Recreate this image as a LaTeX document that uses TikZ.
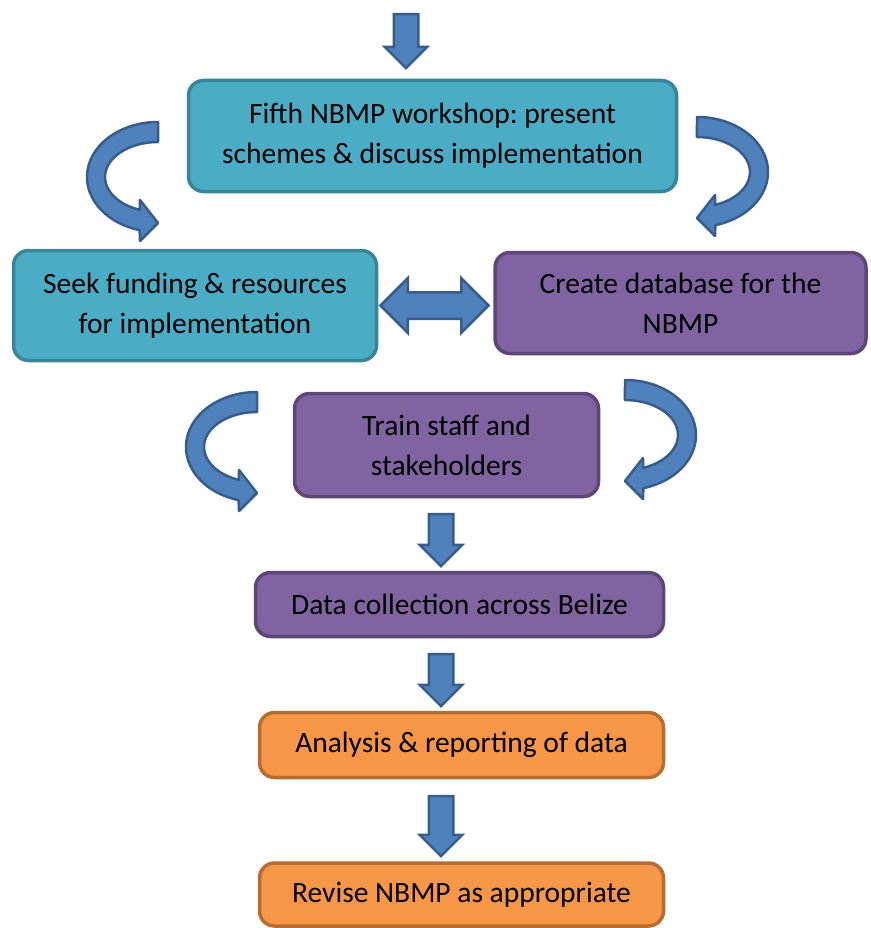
\documentclass[tikz,border=0pt]{standalone}
\usepackage{fontspec}
\setmainfont{Carlito}
\usetikzlibrary{shapes,arrows,positioning,calc}

\definecolor{tealfill}{HTML}{4BACC6}
\definecolor{tealline}{HTML}{3A8498}
\definecolor{purplefill}{HTML}{8064A2}
\definecolor{purpleline}{HTML}{5C4776}
\definecolor{orangefill}{HTML}{F79646}
\definecolor{orangeline}{HTML}{B66D31}
\definecolor{arrowfill}{HTML}{4F81BD}
\definecolor{arrowline}{HTML}{385D8A}

\tikzset{
  stage/.style={draw, rounded corners=15pt, line width=3.5pt, align=center,
    font=\fontsize{29.5}{40}\selectfont, inner sep=0pt},
  tealbox/.style={stage, fill=tealfill, draw=tealline},
  purplebox/.style={stage, fill=purplefill, draw=purpleline},
  orangebox/.style={stage, fill=orangefill, draw=orangeline},
  downarrow/.style={single arrow, draw=arrowline, fill=arrowfill, line width=2.5pt,
    shape border rotate=270, inner ysep=0pt, inner xsep=11pt,
    single arrow head extend=9pt},
  bothways/.style={double arrow, draw=arrowline, fill=arrowfill, line width=2.5pt,
    inner xsep=0pt, inner ysep=12pt, double arrow head extend=14pt},
  curl/.pic={
    \filldraw[fill=arrowfill, draw=arrowline, line width=2.5pt, line join=round]
      (0,55) arc[start angle=90, end angle=255, x radius=71, y radius=55]
      -- (-18,-64) -- (0,-46) -- (-18,-23)
      -- (-18.1,-32.9) arc[start angle=250, end angle=90, x radius=53, y radius=35]
      -- cycle;
  }
}

\begin{document}
\frenchspacing
\begin{tikzpicture}[x=1pt, y=1pt]
  \useasboundingbox (0,0) rectangle (870,-928);

  % boxes
  \node[tealbox, minimum width=488pt, minimum height=111pt] (fifth) at (432.5,-136)
    {Fifth NBMP workshop: present\\schemes \& discuss implementation};
  \node[tealbox, minimum width=363pt, minimum height=110pt] (seek) at (195,-305.5)
    {Seek funding \& resources\\for implementation};
  \node[purplebox, minimum width=371pt, minimum height=101pt] (database) at (680.5,-303)
    {Create database for the\\NBMP};
  \node[purplebox, minimum width=304pt, minimum height=103pt] (train) at (446.5,-445)
    {Train staff and\\stakeholders};
  \node[purplebox, minimum width=408pt, minimum height=64pt] (collect) at (459.5,-604.5)
    {Data collection across Belize};
  \node[orangebox, minimum width=404pt, minimum height=65pt] (analysis) at (461.5,-745)
    {Analysis \& reporting of data};
  \node[orangebox, minimum width=404pt, minimum height=63pt] (revise) at (461.5,-894.5)
    {Revise NBMP as appropriate};

  % block arrows
  \node[downarrow, minimum height=54pt] (intop) at (406,-35) {};
  \node[downarrow, minimum height=52pt] (totrain) at (441,-534) {};
  \node[downarrow, minimum height=52pt] (toanalysis) at (441,-674) {};
  \node[downarrow, minimum height=60pt] (torevise) at (441,-820) {};
  \node[bothways, minimum height=108pt] (link) at (434.5,-305.5) {};

  % curled arrows
  \pic at (158,-177) {curl};
  \pic[xscale=-1] at (697,-172) {curl};
  \pic at (257,-447) {curl};
  \pic[xscale=-1] at (625,-435) {curl};
\end{tikzpicture}
\end{document}
